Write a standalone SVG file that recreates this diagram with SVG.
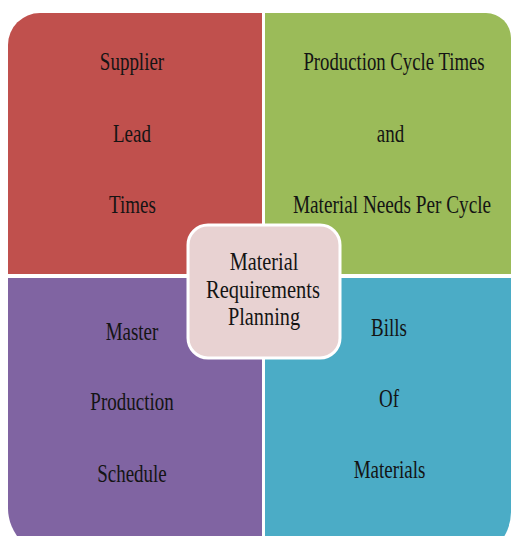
<svg xmlns="http://www.w3.org/2000/svg" width="515" height="536" viewBox="0 0 515 536">
<style>
.t{font-family:"Liberation Serif","Times New Roman",serif;font-size:25px;fill:#141414;text-anchor:middle}
.c{font-size:26px}
</style>
<rect width="515" height="536" fill="#ffffff"/>
<g id="supplier">
<path d="M8,45 A32,32 0 0 1 40,13 L262,13 L262,274 L8,274 Z" fill="#c0504d"/>
<text class="t" transform="matrix(.76 0 0 1 132 70)">Supplier</text>
<text class="t" transform="matrix(.76 0 0 1 132 142)">Lead</text>
<text class="t" transform="matrix(.76 0 0 1 132.5 213)">Times</text>
</g>
<g id="production">
<path d="M265,13 L486,13 A25,25 0 0 1 511,38 L511,274 L265,274 Z" fill="#9bbb59"/>
<text class="t" transform="matrix(.75 0 0 1 394 70)">Production Cycle Times</text>
<text class="t" transform="matrix(.76 0 0 1 390.5 142)">and</text>
<text class="t" transform="matrix(.77 0 0 1 392 213)">Material Needs Per Cycle</text>
</g>
<g id="master">
<path d="M8,278 L262,278 L262,556 L56,556 A48,48 0 0 1 8,508 Z" fill="#8064a2"/>
<text class="t" transform="matrix(.76 0 0 1 132 340)">Master</text>
<text class="t" transform="matrix(.76 0 0 1 132 410)">Production</text>
<text class="t" transform="matrix(.76 0 0 1 132 482)">Schedule</text>
</g>
<g id="bills">
<path d="M265,278 L511,278 L511,512 A47,47 0 0 1 464,559 L265,559 Z" fill="#4bacc6"/>
<text class="t" transform="matrix(.76 0 0 1 389 336)">Bills</text>
<text class="t" transform="matrix(.76 0 0 1 389 407)">Of</text>
<text class="t" transform="matrix(.76 0 0 1 389.5 478)">Materials</text>
</g>
<g id="mrp">
<rect x="188" y="225" width="152" height="133" rx="20" ry="20" fill="#e8d2d2" stroke="#ffffff" stroke-width="3"/>
<text class="t c" transform="matrix(.78 0 0 1 264 270)">Material</text>
<text class="t c" transform="matrix(.79 0 0 1 263 298)">Requirements</text>
<text class="t c" transform="matrix(.78 0 0 1 264 325)">Planning</text>
</g>
<g id="connectors"></g>
</svg>
